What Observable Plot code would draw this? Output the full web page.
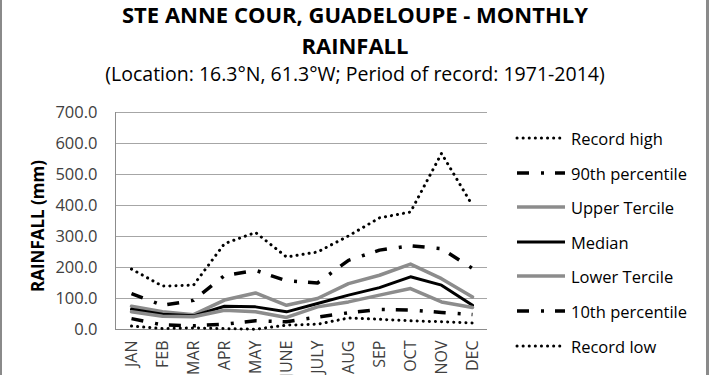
<!DOCTYPE html>
<html>
<head>
<meta charset="utf-8">
<script src="https://cdn.jsdelivr.net/npm/d3@7"></script>
<script src="https://cdn.jsdelivr.net/npm/@observablehq/plot@0.6"></script>
<style>
  html, body { margin: 0; padding: 0; background: #fff; }
  #chart { position: relative; width: 710px; height: 375px; overflow: hidden; font-family: "Open Sans", sans-serif; background: #fff; }
  #chart .border-l { position: absolute; left: 0; top: 0; width: 2px; height: 375px; background: #8a8a8a; }
  #chart .border-r { position: absolute; left: 706px; top: 0; width: 3px; height: 375px; background: #8a8a8a; }
  #title { position: absolute; left: 0; top: -1px; width: 710px; text-align: center; font-weight: bold; font-size: 22px; line-height: 31px; color: #000; }
  #subtitle { position: absolute; left: 0; top: 60px; width: 710px; text-align: center; font-size: 19.5px; color: #000; }
  #ytitle { position: absolute; left: 37px; top: 226px; transform: translate(-50%, -50%) rotate(-90deg); font-weight: bold; font-size: 17px; white-space: nowrap; color: #000; }
  #legend { position: absolute; left: 515px; top: 0; }
  .leg { position: absolute; left: 0; height: 20px; display: flex; align-items: center; white-space: nowrap; font-size: 16.5px; color: #000; }
  .leg svg { margin-right: 4px; }
  #plot { position: absolute; left: 0; top: 0; }
</style>
</head>
<body>
<div id="chart">
  <div class="border-l"></div>
  <div class="border-r"></div>
  <div id="plot"></div>
  <div id="title">STE ANNE COUR, GUADELOUPE - MONTHLY<br>RAINFALL</div>
  <div id="subtitle">(Location: 16.3°N, 61.3°W; Period of record: 1971-2014)</div>
  <div id="ytitle">RAINFALL (mm)</div>
  <div id="legend"></div>
</div>
<script>
const months = ["JAN", "FEB", "MAR", "APR", "MAY", "JUNE", "JULY", "AUG", "SEP", "OCT", "NOV", "DEC"];
const recordHigh    = [195, 140, 143, 277, 313, 234, 250, 302, 360, 379, 568, 400];
const percentile90  = [116, 78, 94, 174, 191, 157, 150, 223, 256, 270, 261, 197];
const upperTercile  = [75, 57, 48, 95, 118, 78, 100, 148, 175, 211, 164, 105];
const median        = [65, 49, 44, 75, 73, 57, 84, 111, 135, 170, 143, 78];
const lowerTercile  = [57, 43, 41, 62, 57, 39, 73, 89, 111, 132, 89, 71];
const percentile10  = [35, 15, 12, 17, 28, 25, 40, 54, 65, 63, 55, 48];
const recordLow     = [11, 3, 5, 3, 1, 14, 17, 37, 33, 28, 25, 21];
const yTicks = [0, 100, 200, 300, 400, 500, 600, 700];
const seriesNames = ["Record high", "90th percentile", "Upper Tercile", "Median", "Lower Tercile", "10th percentile", "Record low"];

const seriesValues = [recordHigh, percentile90, upperTercile, median, lowerTercile, percentile10, recordLow];
const styles = [
  {stroke: "#000", strokeWidth: 3, strokeDasharray: "0.1 6", strokeLinecap: "round"},
  {stroke: "#000", strokeWidth: 3.5, strokeDasharray: "12 12 3 11", strokeLinecap: "butt"},
  {stroke: "#8c8c8c", strokeWidth: 3.5},
  {stroke: "#000", strokeWidth: 3},
  {stroke: "#8c8c8c", strokeWidth: 3.5},
  {stroke: "#000", strokeWidth: 3.5, strokeDasharray: "12 12 3 11", strokeLinecap: "butt"},
  {stroke: "#000", strokeWidth: 3, strokeDasharray: "0.1 6", strokeLinecap: "round"}
];

const lineMarks = seriesNames.map((name, k) => {
  const data = months.map((m, i) => ({month: m, value: seriesValues[k][i]}));
  return Plot.line(data, {x: "month", y: "value", strokeLinejoin: "round", ...styles[k]});
});

const plot = Plot.plot({
  width: 710,
  height: 375,
  marginLeft: 115,
  marginRight: 223,
  marginTop: 112,
  marginBottom: 46,
  style: {fontFamily: "Open Sans, sans-serif", background: "transparent", overflow: "visible"},
  x: {type: "point", domain: months, padding: 0.5},
  y: {domain: [0, 700]},
  marks: [
    Plot.gridY(yTicks.slice(1), {stroke: "#a6a6a6", strokeOpacity: 1, strokeWidth: 1}),
    Plot.frame({anchor: "left", stroke: "#8c8c8c"}),
    Plot.ruleY([0], {stroke: "#8c8c8c", strokeWidth: 1}),
    Plot.axisY(yTicks, {tickSize: 0, tickPadding: 18, tickFormat: d => d.toFixed(1), fontSize: 16.5, fill: "#404040", label: null}),
    Plot.axisX(months, {tickSize: 0, tickPadding: 11, tickRotate: -90, fontSize: 16, fill: "#404040", label: null}),
    ...lineMarks
  ]
});
document.getElementById("plot").appendChild(plot);

const legend = document.getElementById("legend");
const legendY = [138, 173, 207, 242, 276, 311, 346];
seriesNames.forEach((name, k) => {
  const item = document.createElement("div");
  item.className = "leg";
  item.style.top = (legendY[k] - 10) + "px";
  const s = styles[k];
  const svg = d3.create("svg").attr("width", 52).attr("height", 20);
  svg.append("line").attr("x1", 2).attr("x2", 50).attr("y1", 10).attr("y2", 10)
    .attr("stroke", s.stroke).attr("stroke-width", s.strokeWidth)
    .attr("stroke-dasharray", s.strokeDasharray || null)
    .attr("stroke-linecap", s.strokeLinecap || "butt");
  item.appendChild(svg.node());
  const t = document.createElement("span");
  t.textContent = name;
  item.appendChild(t);
  legend.appendChild(item);
});
</script>
</body>
</html>
